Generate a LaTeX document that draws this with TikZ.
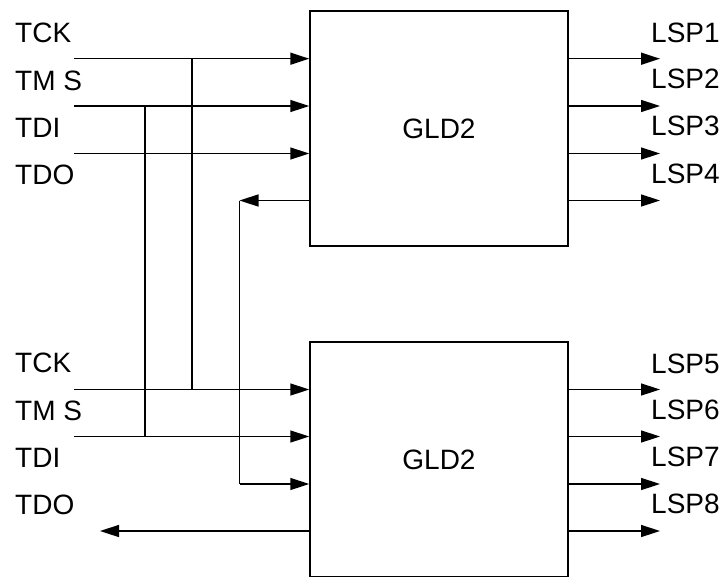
\documentclass[tikz,border=0pt]{standalone}
\usepackage{fontspec}
\setmainfont{Liberation Sans}
\usetikzlibrary{arrows.meta}
\begin{document}
\begin{tikzpicture}[x=1pt,y=-1pt,
  wire/.style={line width=1.5pt, draw=black},
  arr/.style={wire,-{Triangle[length=19pt,width=12pt]}},
  chip/.style={draw=black,line width=1.5pt,rectangle,inner sep=0pt,minimum width=258pt,minimum height=235pt,font=\fontsize{28pt}{32pt}\selectfont},
  lbl/.style={inner sep=0pt,anchor=west,font=\fontsize{28pt}{32pt}\selectfont}]
\useasboundingbox (0,0) rectangle (726,576);
\node[chip] (g1) at (439,128.5) {GLD2};
\node[chip] (g2) at (439,459.5) {GLD2};
% left labels
\node[lbl] (t1) at (15,32.5) {TCK};
\node[lbl] (t2) at (15,81) {TM S};
\node[lbl] (t3) at (15,127.5) {TDI};
\node[lbl] (t4) at (15,175) {TDO};
\node[lbl] (u1) at (15,362.5) {TCK};
\node[lbl] (u2) at (15,411) {TM S};
\node[lbl] (u3) at (15,457.5) {TDI};
\node[lbl] (u4) at (15,505) {TDO};
% right labels
\node[lbl] (l1) at (651,33) {LSP1};
\node[lbl] (l2) at (651,79) {LSP2};
\node[lbl] (l3) at (651,126) {LSP3};
\node[lbl] (l4) at (651,174) {LSP4};
\node[lbl] (l5) at (651,364) {LSP5};
\node[lbl] (l6) at (651,410) {LSP6};
\node[lbl] (l7) at (651,457) {LSP7};
\node[lbl] (l8) at (651,504) {LSP8};
% coordinates
\coordinate (a1) at (74,58.7);
\coordinate (a2) at (74,106);
\coordinate (a3) at (74,153.5);
\coordinate (b1) at (74,389.5);
\coordinate (b2) at (74,436.5);
\coordinate (j1) at (192,58.7);
\coordinate (j1b) at (192,389.5);
\coordinate (j2) at (145,106);
\coordinate (j2b) at (145,436.5);
\coordinate (fb) at (239.5,200.5);
\coordinate (fbb) at (239.5,484);
\coordinate (tdo) at (100,531);
\coordinate (o1) at (660,58.7);
\coordinate (o2) at (660,106);
\coordinate (o3) at (660,153.5);
\coordinate (o4) at (660,200.5);
\coordinate (o5) at (660,389.5);
\coordinate (o6) at (660,436.5);
\coordinate (o7) at (660,484);
\coordinate (o8) at (660,531);
% inputs
\draw[arr] (a1) -- (a1 -| g1.west);
\draw[arr] (a2) -- (a2 -| g1.west);
\draw[arr] (a3) -- (a3 -| g1.west);
\draw[arr] (b1) -- (b1 -| g2.west);
\draw[arr] (b2) -- (b2 -| g2.west);
\draw[wire] (j1) -- (j1b);
\draw[wire] (j2) -- (j2b);
% feedback
\draw[arr] (fb -| g1.west) -- (fb);
\draw[wire] (fb) -- (fbb);
\draw[arr] (fbb) -- (fbb -| g2.west);
\draw[arr] (tdo -| g2.west) -- (tdo);
% outputs
\foreach \o in {o1,o2,o3,o4}{\draw[arr] (\o -| g1.east) -- (\o);}
\foreach \o in {o5,o6,o7,o8}{\draw[arr] (\o -| g2.east) -- (\o);}
\end{tikzpicture}
\end{document}
